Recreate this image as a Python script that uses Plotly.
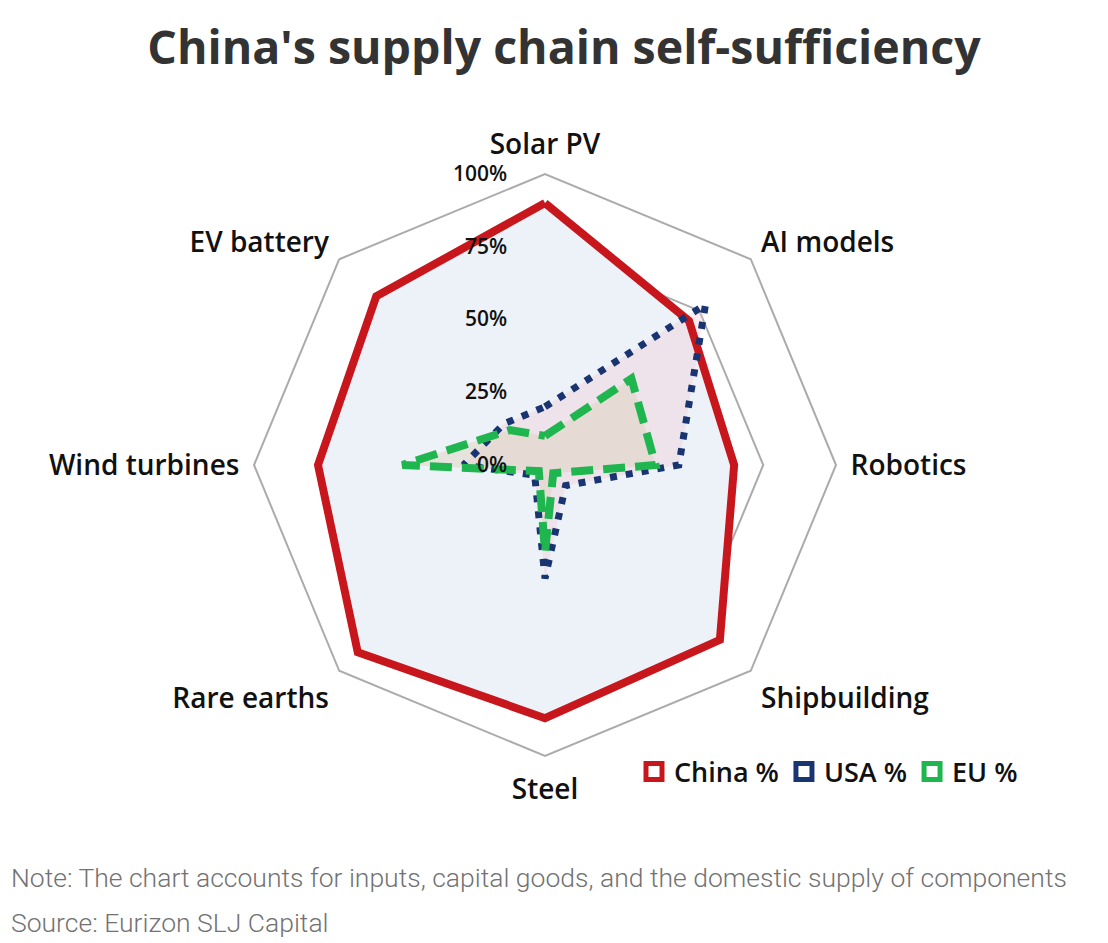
import plotly.graph_objects as go

categories = ["Solar PV", "AI models", "Robotics", "Shipbuilding", "Steel",
              "Rare earths", "Wind turbines", "EV battery"]
china = [0.90, 0.70, 0.65, 0.85, 0.87, 0.91, 0.78, 0.82]
usa = [0.20, 0.78, 0.46, 0.10, 0.39, 0.05, 0.28, 0.20]
eu = [0.10, 0.42, 0.38, 0.04, 0.30, 0.03, 0.49, 0.17]
radial_ticks = [0, 0.25, 0.5, 0.75, 1.0]
radial_labels = ["0%", "25%", "50%", "75%", "100%"]

W, H = 1108, 943
cx, cy, R = 537, 457, 291

RED, NAVY, GREEN = "#c8161d", "#183572", "#1fb650"

def closed(v):
    return list(v) + [v[0]]

cats_c = closed(categories)

fig = go.Figure()
# fills
for vals, fc in [(china, "#edf1f8"), (usa, "rgba(240,200,212,0.35)"),
                 (eu, "rgba(215,200,170,0.35)")]:
    fig.add_trace(go.Scatterpolar(r=closed(vals), theta=cats_c, mode="lines",
                                  fill="toself", fillcolor=fc, line=dict(width=0),
                                  showlegend=False, hoverinfo="skip"))
# outlines
fig.add_trace(go.Scatterpolar(r=closed(china), theta=cats_c, mode="lines", showlegend=False,
                              line=dict(color=RED, width=8), hoverinfo="skip"))
fig.add_trace(go.Scatterpolar(r=closed(usa), theta=cats_c, mode="lines", showlegend=False,
                              line=dict(color=NAVY, width=7, dash="7px,9px"), hoverinfo="skip"))
fig.add_trace(go.Scatterpolar(r=closed(eu), theta=cats_c, mode="lines", showlegend=False,
                              line=dict(color=GREEN, width=8, dash="22px,10px"), hoverinfo="skip"))
# legend entries
for name, col in [("China %", RED), ("USA %", NAVY), ("EU %", GREEN)]:
    fig.add_trace(go.Scatterpolar(r=[None], theta=[None], mode="markers", name=name,
                                  marker=dict(symbol="square-open", size=19, color=col,
                                              line=dict(color=col, width=7))))

fig.update_layout(
    width=W, height=H,
    margin=dict(l=0, r=0, t=0, b=0),
    paper_bgcolor="white",
    font=dict(family="Open Sans", color="#111"),
    polar=dict(
        domain=dict(x=[(cx - R) / W, (cx + R) / W],
                    y=[(H - cy - R) / H, (H - cy + R) / H]),
        bgcolor="white",
        gridshape="linear",
        radialaxis=dict(range=[0, 1], tickvals=radial_ticks, ticktext=radial_labels,
                        angle=90, tickangle=90, side="counterclockwise",
                        showline=False, ticks="outside", ticklen=30,
                        tickcolor="rgba(0,0,0,0)", gridcolor="#ababab", gridwidth=2,
                        tickfont=dict(size=21, color="#111", family="Open Sans", weight=600)),
        angularaxis=dict(direction="clockwise", rotation=90, showgrid=False,
                         linecolor="#ababab", linewidth=2,
                         ticks="outside", ticklen=8, tickcolor="rgba(0,0,0,0)",
                         tickfont=dict(size=28, color="#111", family="Open Sans", weight=600)),
    ),
    showlegend=True,
    legend=dict(orientation="h", x=626 / W, y=(H - 764) / H, xanchor="left", yanchor="middle",
                font=dict(size=27, color="#111", family="Open Sans", weight=600),
                itemwidth=30, tracegroupgap=0, bgcolor="rgba(0,0,0,0)"),
    title=dict(text="China's supply chain self-sufficiency", x=556 / W, xanchor="center",
               y=1 - 40 / H, yanchor="middle",
               font=dict(size=46.5, color="#333", family="Open Sans", weight=700)),
    annotations=[
        dict(text="Note: The chart accounts for inputs, capital goods, and the domestic supply of components",
             x=1 / W, y=1 - 869 / H, xref="paper", yref="paper", xanchor="left", yanchor="middle",
             showarrow=False, font=dict(size=26.5, color="#727272", family="Roboto", weight=300)),
        dict(text="Source: Eurizon SLJ Capital",
             x=1 / W, y=1 - 914 / H, xref="paper", yref="paper", xanchor="left", yanchor="middle",
             showarrow=False, font=dict(size=26.5, color="#727272", family="Roboto", weight=300)),
    ],
)

fig.write_html("out.html")
